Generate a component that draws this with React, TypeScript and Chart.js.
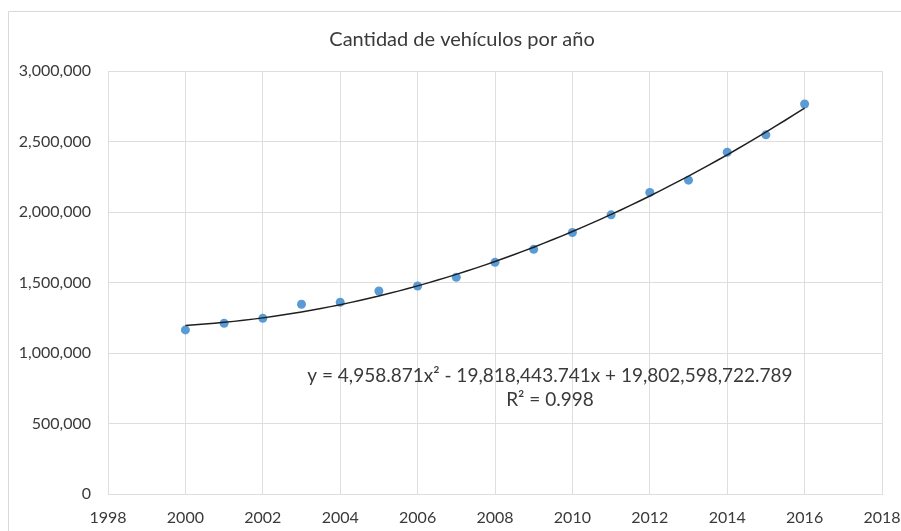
import React, { useEffect, useRef } from "react";
import { Chart, registerables } from "chart.js";

Chart.register(...registerables);

const chartTitle = "Cantidad de vehículos por año";
const years = [2000, 2001, 2002, 2003, 2004, 2005, 2006, 2007, 2008, 2009, 2010, 2011, 2012, 2013, 2014, 2015, 2016];
const vehicles = [1164000, 1211000, 1246000, 1346000, 1360000, 1440000, 1475000, 1537000, 1643000, 1735000, 1855000, 1980000, 2139000, 2226000, 2424000, 2547000, 2766000];
// Polynomial trend (order 2) as shown on the chart
const trendCoefficients = [4958.871, -19818443.741, 19802598722.789];
const trendEquation = "y = 4,958.871x² - 19,818,443.741x + 19,802,598,722.789";
const trendR2 = "R² = 0.998";
const xRange = [1998, 2018];
const yRange = [0, 3000000];

const FONT = "Lato, 'Open Sans', sans-serif";
const TEXT = "#3a3a3a";
const GRID = "#dedede";

function trendValue(x: number) {
  const [a, b, c] = trendCoefficients;
  return a * x * x + b * x + c;
}

const trendPoints: { x: number; y: number }[] = [];
for (let i = 0; i <= (years[years.length - 1] - years[0]) * 4; i++) {
  const x = years[0] + i / 4;
  trendPoints.push({ x, y: trendValue(x) });
}

const decorPlugin = {
  id: "decor",
  beforeDraw(chart: any) {
    const ctx = chart.ctx;
    ctx.save();
    ctx.fillStyle = "#ffffff";
    ctx.fillRect(0, 0, chart.width, chart.height);
    ctx.strokeStyle = "#d9d9d9";
    ctx.lineWidth = 1;
    ctx.beginPath();
    ctx.moveTo(8.5, chart.height);
    ctx.lineTo(8.5, 11.5);
    ctx.lineTo(chart.width, 11.5);
    ctx.stroke();
    ctx.restore();
  },
  afterDraw(chart: any) {
    const ctx = chart.ctx;
    const xs = chart.scales.x;
    const ys = chart.scales.y;
    ctx.save();
    ctx.fillStyle = TEXT;
    ctx.textAlign = "center";
    ctx.textBaseline = "middle";
    ctx.font = `20px ${FONT}`;
    ctx.fillText(chartTitle, 462, 40);
    ctx.font = `19px ${FONT}`;
    const cx = xs.getPixelForValue(2009.42);
    ctx.fillText(trendEquation, cx, ys.getPixelForValue(838000));
    ctx.fillText(trendR2, cx, ys.getPixelForValue(668000));
    ctx.restore();
  },
};

export default function App() {
  const ref = useRef<HTMLCanvasElement>(null);
  useEffect(() => {
    if (!ref.current) return;
    const chart = new Chart(ref.current, {
      type: "scatter",
      data: {
        datasets: [
          {
            label: "Tendencia",
            type: "line",
            data: trendPoints,
            borderColor: "#1f1f1f",
            borderWidth: 1.5,
            pointRadius: 0,
            fill: false,
            order: 0,
          } as any,
          {
            label: "Vehículos",
            data: years.map((y, i) => ({ x: y, y: vehicles[i] })),
            backgroundColor: "#5b9bd5",
            borderColor: "#5b9bd5",
            borderWidth: 0,
            pointRadius: 4.5,
            order: 1,
          },
        ],
      },
      options: {
        responsive: false,
        animation: false,
        events: [],
        layout: { padding: { top: 71, right: 19, left: 0, bottom: 0 } },
        plugins: {
          legend: { display: false },
          title: { display: false },
          tooltip: { enabled: false },
        },
        scales: {
          x: {
            type: "linear",
            min: xRange[0],
            max: xRange[1],
            afterFit(scale: any) {
              scale.height = 37;
              scale.paddingLeft = 0;
              scale.paddingRight = 0;
            },
            ticks: {
              stepSize: 2,
              padding: 14,
              color: TEXT,
              font: { family: FONT, size: 16 },
              maxRotation: 0,
              callback: (v: any) => String(v),
            },
            grid: { color: GRID, drawTicks: false },
            border: { color: GRID },
          },
          y: {
            type: "linear",
            min: yRange[0],
            max: yRange[1],
            afterFit(scale: any) {
              scale.width = 108;
              scale.paddingTop = 0;
              scale.paddingBottom = 0;
            },
            ticks: {
              stepSize: 500000,
              padding: 17,
              color: TEXT,
              font: { family: FONT, size: 16 },
              callback: (v: any) => Number(v).toLocaleString("en-US"),
            },
            grid: { color: GRID, drawTicks: false },
            border: { color: GRID },
          },
        },
      },
      plugins: [decorPlugin],
    });
    return () => chart.destroy();
  }, []);
  return (
    <div style={{ position: "absolute", left: 0, top: 0, width: 901, height: 531, background: "#fff" }}>
      <canvas ref={ref} width={901} height={531} style={{ display: "block" }} />
    </div>
  );
}
